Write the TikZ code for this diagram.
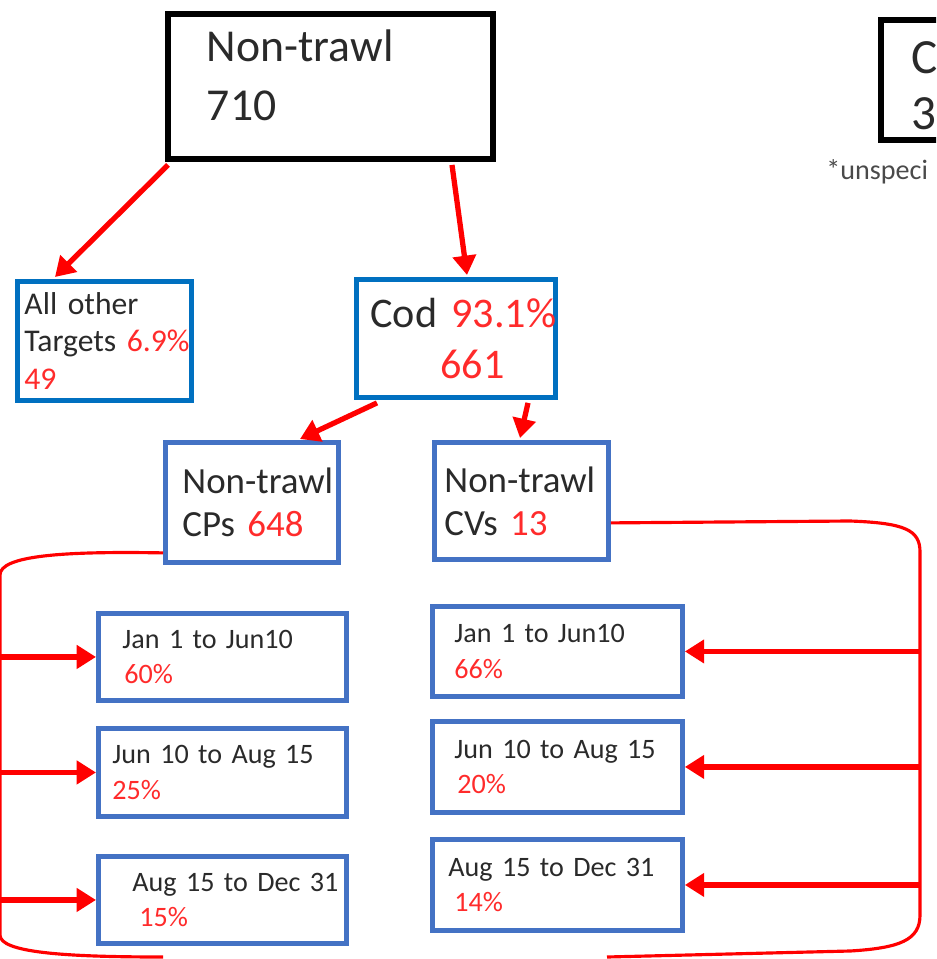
\documentclass[tikz,border=0pt]{standalone}
\usepackage{fontspec}
\setmainfont{Carlito}
\usepackage{xcolor}
\usetikzlibrary{arrows.meta,calc}
\definecolor{topblue}{HTML}{0070C0}
\definecolor{boxblue}{HTML}{4472C4}
\definecolor{pctred}{HTML}{FF2B2B}
\definecolor{txtgray}{HTML}{2A2A2A}
\newcommand{\pad}[1]{\hspace*{#1}}
\newcommand{\pct}[1]{\textcolor{pctred}{#1}}
\newcommand{\lift}[1]{\rule[-#1]{0pt}{0pt}}

\begin{document}
\begin{tikzpicture}[x=0.02cm, y=-0.02cm,
  box/.style={anchor=north west, inner xsep=0pt, inner ysep=0pt, align=left, text=txtgray},
  catbox/.style={box, draw=topblue, line width=2.8pt},
  gearbox/.style={box, draw=boxblue, line width=2.8pt, text width=3.46cm, minimum height=2.4cm, font=\fontsize{21}{24.5}\selectfont},
  datebox/.style={box, draw=boxblue, line width=2.8pt, font=\fontsize{16}{20}\selectfont},
  flow/.style={red, line width=3pt, -{Triangle[length=11pt,width=13pt]}},
  bracket/.style={red, line width=1.8pt}]
\useasboundingbox (0,0) rectangle (936,959);
\clip (0,0) rectangle (936,959);

\node [box, draw=black, line width=3.4pt, text width=6.5cm, minimum height=2.9cm, font=\fontsize{26}{34}\selectfont] (total) at (165,11) {\pad{0.78cm}Non-trawl\\\pad{0.78cm}710\lift{0.45cm}};
\node [box, draw=black, line width=3.4pt, text width=2.4cm, minimum height=2.4cm, font=\fontsize{28}{32}\selectfont] (cp) at (878,17) {\pad{0.62cm}\rule{0pt}{25pt}C\\\pad{0.62cm}3};
\node [anchor=base west, inner sep=0pt, text=txtgray!85, font=\fontsize{16}{19}\selectfont] (note) at (826,180) {*unspeci};

\node [catbox, text width=3.48cm, minimum height=2.38cm, font=\fontsize{18}{21.5}\selectfont] (other) at (15,279) {\pad{0.14cm}All other\\\pad{0.14cm}Targets~\pct{6.9\%}\\\pad{0.14cm}\pct{49}};
\node [catbox, text width=3.98cm, minimum height=2.36cm, font=\fontsize{24}{29.5}\selectfont] (cod) at (354,277) {\pad{0.28cm}Cod~\pct{93.1\%}\\\pad{1.68cm}\pct{661}};

\node [gearbox] (cps) at (163,440) {\pad{0.34cm}Non-trawl\\\pad{0.34cm}CPs~\pct{648}};
\node [gearbox, text width=3.48cm, minimum height=2.34cm] (cvs) at (432,440) {\pad{0.2cm}Non-trawl\\\pad{0.2cm}CVs~\pct{13}};

\node [datebox, text width=4.96cm, minimum height=1.74cm] (cpa) at (96,611) {\pad{0.48cm}Jan 1 to Jun10\\\pad{0.52cm}\pct{60\%}};
\node [datebox, text width=4.96cm, minimum height=1.76cm] (cpb) at (96,726) {\pad{0.28cm}Jun 10 to Aug 15\\\pad{0.28cm}\pct{25\%}};
\node [datebox, text width=4.96cm, minimum height=1.74cm] (cpc) at (96,854) {\pad{0.68cm}Aug 15 to Dec 31\\\pad{0.82cm}\pct{15\%}};

\node [datebox, text width=5cm, minimum height=1.8cm] (cva) at (430,604) {\pad{0.44cm}Jan 1 to Jun10\\\pad{0.44cm}\pct{66\%}};
\node [datebox, text width=5cm, minimum height=1.82cm] (cvb) at (430,719) {\pad{0.44cm}Jun 10 to Aug 15\\\pad{0.5cm}\pct{20\%}};
\node [datebox, text width=5cm, minimum height=1.82cm] (cvc) at (430,837) {\pad{0.32cm}Aug 15 to Dec 31\\\pad{0.44cm}\pct{14\%}};

\draw [flow] ($(total.south west)+(3,3)$) -- ($(other.north west)+(40,-2)$);
\draw [flow] ($(total.south west)+(287,3)$) -- ($(cod.north west)+(113,-2)$);
\draw [flow] ($(cod.south west)+(23,3)$) -- ($(cps.north west)+(137,-1)$);
\draw [flow] ($(cod.south west)+(174,3)$) -- ($(cvs.north west)+(88,-2)$);

\coordinate (lbar) at (0,600);
\coordinate (rbar) at (920,600);
\draw [bracket] ($(cps.south west)+(0,-12)$) .. controls (60,551) and (0,556) .. (0,575) -- (0,935) .. controls (0,952) and (60,957) .. (163,957);
\draw [bracket] ($(cvs.south east)+(0,-39)$) -- (850,521) .. controls (905,523) and (920,530) .. (920,552) -- (920,915) .. controls (920,940) and (900,948) .. (850,951) -- (607,957);

\draw [flow] (cpa.west -| lbar) -- (cpa.west);
\draw [flow] (cpb.west -| lbar) -- (cpb.west);
\draw [flow] (cpc.west -| lbar) -- (cpc.west);
\draw [flow] (cva.east -| rbar) -- (cva.east);
\draw [flow] (cvb.east -| rbar) -- (cvb.east);
\draw [flow] (cvc.east -| rbar) -- (cvc.east);

\end{tikzpicture}
\end{document}
